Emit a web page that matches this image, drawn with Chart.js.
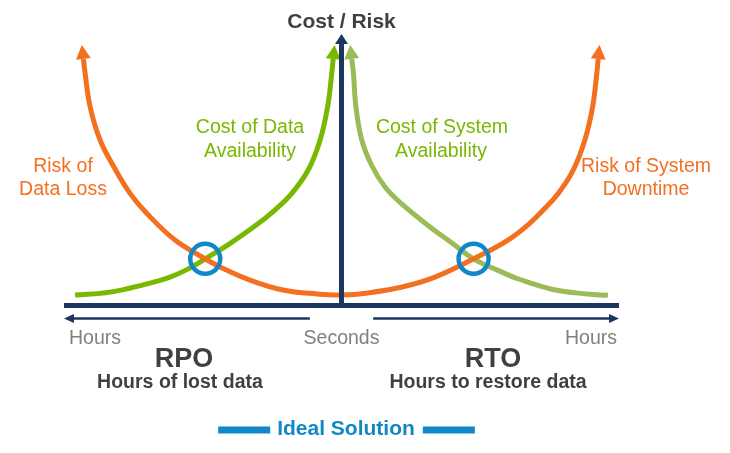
<!DOCTYPE html>
<html>
<head>
<meta charset="utf-8">
<script src="https://cdn.jsdelivr.net/npm/chart.js@4.4.1/dist/chart.umd.min.js"></script>
<style>
  html, body { margin: 0; padding: 0; background: #fff; }
  #wrap { width: 730px; height: 453px; position: relative; }
</style>
</head>
<body>
<div id="wrap"><canvas id="rpoChart"></canvas></div>
<script>
/* ================= DATA ================= */
// x: -100 = Hours (RPO side), 0 = Seconds, 100 = Hours (RTO side)
// y: cost / risk, 0..101
const riskX = [-93.0, -92.4, -90.6, -87.0, -82.2, -76.2, -70.2, -60.0, -49.1, -43.8, -33.0, -21.1, -8.8, 0.2, 9.5, 21.8, 33.7, 47.6, 60.0, 67.9, 72.7, 78.1, 83.5, 87.7, 90.5, 92.0, 92.5];
const riskY = [91.7, 86.4, 73.9, 61.5, 51.8, 41.6, 34.2, 24.2, 17.2, 14.2, 9.3, 5.6, 4.1, 3.7, 4.5, 6.7, 10.4, 17.2, 24.2, 30.5, 35.4, 41.6, 50.3, 61.5, 73.9, 86.4, 91.7];

const dataCostX = [-96.0, -83.4, -71.5, -61.8, -54.6, -49.1, -40.5, -31.2, -24.0, -17.9, -12.0, -7.7, -5.0, -3.5, -3.0];
const dataCostY = [3.7, 4.8, 7.5, 10.4, 13.8, 17.2, 22.7, 29.4, 35.4, 41.6, 50.3, 61.5, 73.9, 86.4, 91.7];

const systemCostX = [3.7, 4.3, 5.2, 7.3, 11.0, 15.7, 21.8, 31.9, 39.8, 47.6, 56.4, 64.3, 76.2, 88.5, 96.0];
const systemCostY = [91.7, 86.4, 73.9, 61.5, 51.8, 44.0, 37.6, 29.1, 23.1, 17.2, 12.9, 9.5, 5.8, 4.1, 3.6];

// intersections = ideal solution
const idealX = [-49.1, 47.6];
const idealY = [17.2, 17.2];

const xTickValues = [-100, 0, 100];
const xTickLabels = ["Hours", "Seconds", "Hours"];

const axisTitle = "Cost / Risk";
const legendLabel = "Ideal Solution";

/* ================= STYLE ================= */
const FONT = '"Liberation Sans", Arial, sans-serif';
const NAVY = "#1b365f";
const ORANGE = "#f37021";
const GREEN = "#78b800";
const LIGHT_GREEN = "#9bbb59";
const BLUE = "#1287c7";
const DARK = "#404040";
const GREY = "#808080";

function toPoints(xs, ys) {
  return xs.map((x, i) => ({ x: x, y: ys[i] }));
}

function arrowHead(ctx, fx, fy, tx, ty, len, w, color) {
  const dx = tx - fx, dy = ty - fy;
  const d = Math.hypot(dx, dy) || 1;
  const ux = dx / d, uy = dy / d;
  const px = -uy, py = ux;
  ctx.beginPath();
  ctx.moveTo(tx + ux * len, ty + uy * len);
  ctx.lineTo(tx + px * w / 2, ty + py * w / 2);
  ctx.lineTo(tx - px * w / 2, ty - py * w / 2);
  ctx.closePath();
  ctx.fillStyle = color;
  ctx.fill();
}

function text(ctx, str, x, y, font, color, align) {
  ctx.font = font;
  ctx.fillStyle = color;
  ctx.textAlign = align || "center";
  ctx.textBaseline = "alphabetic";
  ctx.fillText(str, x, y);
}

/* ================= PLUGIN: axes, arrows, texts ================= */
const diagramPlugin = {
  id: "diagram",
  afterDatasetsDraw(chart) {
    const ctx = chart.ctx;
    const xs = chart.scales.x, ys = chart.scales.y;
    const x0 = xs.getPixelForValue(0);
    const y0 = ys.getPixelForValue(0);
    const top = ys.getPixelForValue(ys.max);

    ctx.save();

    // curve arrowheads
    chart.data.datasets.forEach((ds, i) => {
      if (!ds.arrowAt) return;
      const pts = chart.getDatasetMeta(i).data;
      const n = pts.length;
      ds.arrowAt.forEach((where) => {
        if (where === "end") {
          arrowHead(ctx, pts[n - 2].x, pts[n - 2].y, pts[n - 1].x, pts[n - 1].y, 14, 15, ds.borderColor);
        } else {
          arrowHead(ctx, pts[1].x, pts[1].y, pts[0].x, pts[0].y, 14, 15, ds.borderColor);
        }
      });
    });

    // vertical axis
    ctx.strokeStyle = NAVY;
    ctx.lineWidth = 5;
    ctx.beginPath();
    ctx.moveTo(x0, y0 + 2);
    ctx.lineTo(x0, top + 10);
    ctx.stroke();
    arrowHead(ctx, x0, top + 20, x0, top + 10, 10, 13, NAVY);

    // horizontal axis
    const xl = xs.getPixelForValue(xs.min), xr = xs.getPixelForValue(xs.max);
    ctx.beginPath();
    ctx.moveTo(xl, y0 + 0.5);
    ctx.lineTo(xr, y0 + 0.5);
    ctx.stroke();

    // direction arrows under the axis
    const ya = y0 + 13.5;
    ctx.lineWidth = 2.5;
    ctx.beginPath();
    ctx.moveTo(xs.getPixelForValue(-11.4), ya);
    ctx.lineTo(xl + 10, ya);
    ctx.moveTo(xs.getPixelForValue(11.4), ya);
    ctx.lineTo(xr - 10, ya);
    ctx.stroke();
    arrowHead(ctx, xl + 20, ya, xl + 10, ya, 10, 9, NAVY);
    arrowHead(ctx, xr - 20, ya, xr - 10, ya, 10, 9, NAVY);

    // tick labels
    xTickValues.forEach((v, i) => {
      const align = i === 0 ? "left" : i === xTickValues.length - 1 ? "right" : "center";
      let px = xs.getPixelForValue(v);
      if (align === "left") px += 5;
      if (align === "right") px -= 2;
      text(ctx, xTickLabels[i], px, y0 + 39, "19.5px " + FONT, GREY, align);
    });

    // titles
    text(ctx, axisTitle, x0, 28, "bold 21px " + FONT, DARK);
    text(ctx, "RPO", 184, 367, "bold 27px " + FONT, DARK);
    text(ctx, "Hours of lost data", 180, 388, "bold 19.5px " + FONT, DARK);
    text(ctx, "RTO", 493, 367, "bold 27px " + FONT, DARK);
    text(ctx, "Hours to restore data", 488, 388, "bold 19.5px " + FONT, DARK);

    // curve labels
    const f = "19.5px " + FONT;
    text(ctx, "Risk of", 63, 172, f, ORANGE);
    text(ctx, "Data Loss", 63, 195, f, ORANGE);
    text(ctx, "Cost of Data", 250, 133, f, GREEN);
    text(ctx, "Availability", 250, 157, f, GREEN);
    text(ctx, "Cost of System", 442, 133, f, GREEN);
    text(ctx, "Availability", 441, 157, f, GREEN);
    text(ctx, "Risk of System", 646, 172, f, ORANGE);
    text(ctx, "Downtime", 646, 195, f, ORANGE);

    // legend
    ctx.font = "bold 21px " + FONT;
    const lw = ctx.measureText(legendLabel).width;
    const lx = 346, ly = 435;
    text(ctx, legendLabel, lx, ly, "bold 21px " + FONT, BLUE);
    ctx.strokeStyle = BLUE;
    ctx.lineWidth = 7;
    ctx.beginPath();
    ctx.moveTo(lx - lw / 2 - 59, ly - 5);
    ctx.lineTo(lx - lw / 2 - 7, ly - 5);
    ctx.moveTo(lx + lw / 2 + 8, ly - 5);
    ctx.lineTo(lx + lw / 2 + 60, ly - 5);
    ctx.stroke();

    ctx.restore();
  }
};

/* ================= CHART ================= */
Chart.defaults.font.family = FONT;

function curve(label, xs, ys, color, arrows, order) {
  return {
    label: label,
    data: toPoints(xs, ys),
    showLine: true,
    borderColor: color,
    borderWidth: 5,
    pointRadius: 0,
    tension: 0.4,
    arrowAt: arrows,
    order: order
  };
}

new Chart(document.getElementById("rpoChart"), {
  type: "scatter",
  data: {
    datasets: [
      {
        label: legendLabel,
        data: toPoints(idealX, idealY),
        showLine: false,
        pointRadius: 15,
        pointBorderWidth: 4.5,
        pointBorderColor: BLUE,
        pointBackgroundColor: "rgba(0,0,0,0)",
        order: 0
      },
      curve("Risk", riskX, riskY, ORANGE, ["start", "end"], 1),
      curve("Cost of Data Availability", dataCostX, dataCostY, GREEN, ["end"], 2),
      curve("Cost of System Availability", systemCostX, systemCostY, LIGHT_GREEN, ["start"], 3)
    ]
  },
  options: {
    responsive: true,
    maintainAspectRatio: false,
    animation: false,
    events: [],
    layout: { padding: { left: 64, right: 111, top: 34, bottom: 148 } },
    plugins: {
      legend: { display: false },
      tooltip: { enabled: false }
    },
    scales: {
      x: { type: "linear", min: -100, max: 100, display: false },
      y: { type: "linear", min: 0, max: 101, display: false }
    },
    clip: false
  },
  plugins: [diagramPlugin]
});
</script>
</body>
</html>
